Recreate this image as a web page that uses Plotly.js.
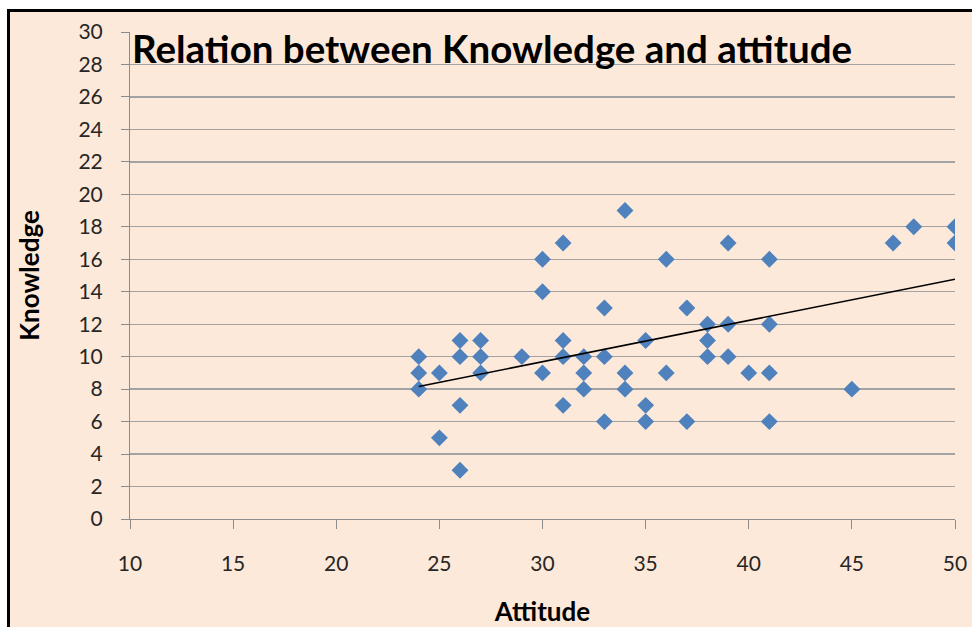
<!DOCTYPE html>
<html>
<head>
<meta charset="utf-8">
<script src="https://cdn.plot.ly/plotly-3.0.1.min.js"></script>
<style>
  html, body { margin:0; padding:0; background:#ffffff; width:972px; height:627px; overflow:hidden; }
  #frame { position:absolute; left:7px; top:9px; width:1000px; height:700px;
           border-left:3px solid #000; border-top:3px solid #000; background:#FDE9D9; }
  #chart { position:absolute; left:0; top:0; width:972px; height:627px; }
</style>
</head>
<body>
<div id="frame"></div>
<div id="chart"></div>
<script>
// Data
const attitude  = [24,24,24, 25,25, 26,26,26,26, 27,27,27, 29, 30,30,30, 31,31,31,31,
                   32,32,32, 33,33,33, 34,34,34, 35,35,35, 36,36, 37,37, 38,38,38,
                   39,39,39, 40, 41,41,41,41, 45, 47, 48, 50,50];
const knowledge = [10,9,8, 9,5, 11,10,7,3, 11,10,9, 10, 16,14,9, 17,11,10,7,
                   10,9,8, 13,10,6, 19,9,8, 11,7,6, 16,9, 13,6, 12,11,10,
                   17,12,10, 9, 16,12,9,6, 8, 17, 18, 18,17];
const xTicks = [10,15,20,25,30,35,40,45,50];
const yTicks = [0,2,4,6,8,10,12,14,16,18,20,22,24,26,28,30];
const chartTitle = "Relation between Knowledge and attitude";
const xTitle = "Attitude";
const yTitle = "Knowledge";

// Linear (least squares) trendline, as in the spreadsheet chart
const n = attitude.length;
const mx = attitude.reduce((a,b)=>a+b,0)/n;
const my = knowledge.reduce((a,b)=>a+b,0)/n;
let sxy = 0, sxx = 0;
for (let i=0;i<n;i++){ sxy += (attitude[i]-mx)*(knowledge[i]-my); sxx += (attitude[i]-mx)**2; }
const slope = sxy/sxx, icpt = my - slope*mx;
const xmin = Math.min(...attitude), xmax = Math.max(...attitude);
const trendX = [xmin, xmax];
const trendY = trendX.map(v => icpt + slope*v);

const FONT = "Lato, 'Open Sans', sans-serif";
const axisGray = "#8c8c8c";

const traces = [
  { x: attitude, y: knowledge, type: "scatter", mode: "markers",
    marker: { symbol: "diamond", size: 13, color: "#4F81BD", line: { width: 0 } },
    hoverinfo: "x+y", showlegend: false },
  { x: trendX, y: trendY, type: "scatter", mode: "lines",
    line: { color: "#000000", width: 1.6 }, hoverinfo: "skip", showlegend: false }
];

const layout = {
  width: 972, height: 627,
  margin: { l: 130, r: 17, t: 32, b: 108, pad: 0 },
  paper_bgcolor: "rgba(0,0,0,0)",
  plot_bgcolor: "rgba(0,0,0,0)",
  font: { family: FONT, color: "#262626" },
  showlegend: false,
  xaxis: {
    range: [10, 50], tickmode: "array", tickvals: xTicks,
    ticks: "outside", ticklen: 9, tickwidth: 1, tickcolor: axisGray,
    showline: true, linecolor: axisGray, linewidth: 1,
    showgrid: false, zeroline: false,
    tickfont: { size: 21, family: FONT, color: "#262626" },
    ticklabelstandoff: 17,
    title: { text: xTitle, font: { size: 26, family: FONT, color: "#000", weight: "bold" }, standoff: 29 }
  },
  yaxis: {
    range: [0, 30], tickmode: "array", tickvals: yTicks,
    ticks: "outside", ticklen: 8, tickwidth: 1, tickcolor: axisGray,
    showline: true, linecolor: axisGray, linewidth: 1,
    showgrid: true, gridcolor: "#a3a3a3", gridwidth: 1.3, zeroline: false,
    tickfont: { size: 21, family: FONT, color: "#262626" },
    ticklabelstandoff: 14,
    title: { text: yTitle, font: { size: 26, family: FONT, color: "#000", weight: "bold" }, standoff: 31 }
  },
  annotations: [
    { text: "<b>" + chartTitle + "</b>", xref: "paper", yref: "paper",
      x: 0, y: 1.0, xanchor: "left", yanchor: "top", yshift: 9,
      showarrow: false, font: { size: 38.5, family: FONT, color: "#000" } }
  ]
};

Plotly.newPlot("chart", traces, layout, { displayModeBar: false, staticPlot: true });
</script>
</body>
</html>
